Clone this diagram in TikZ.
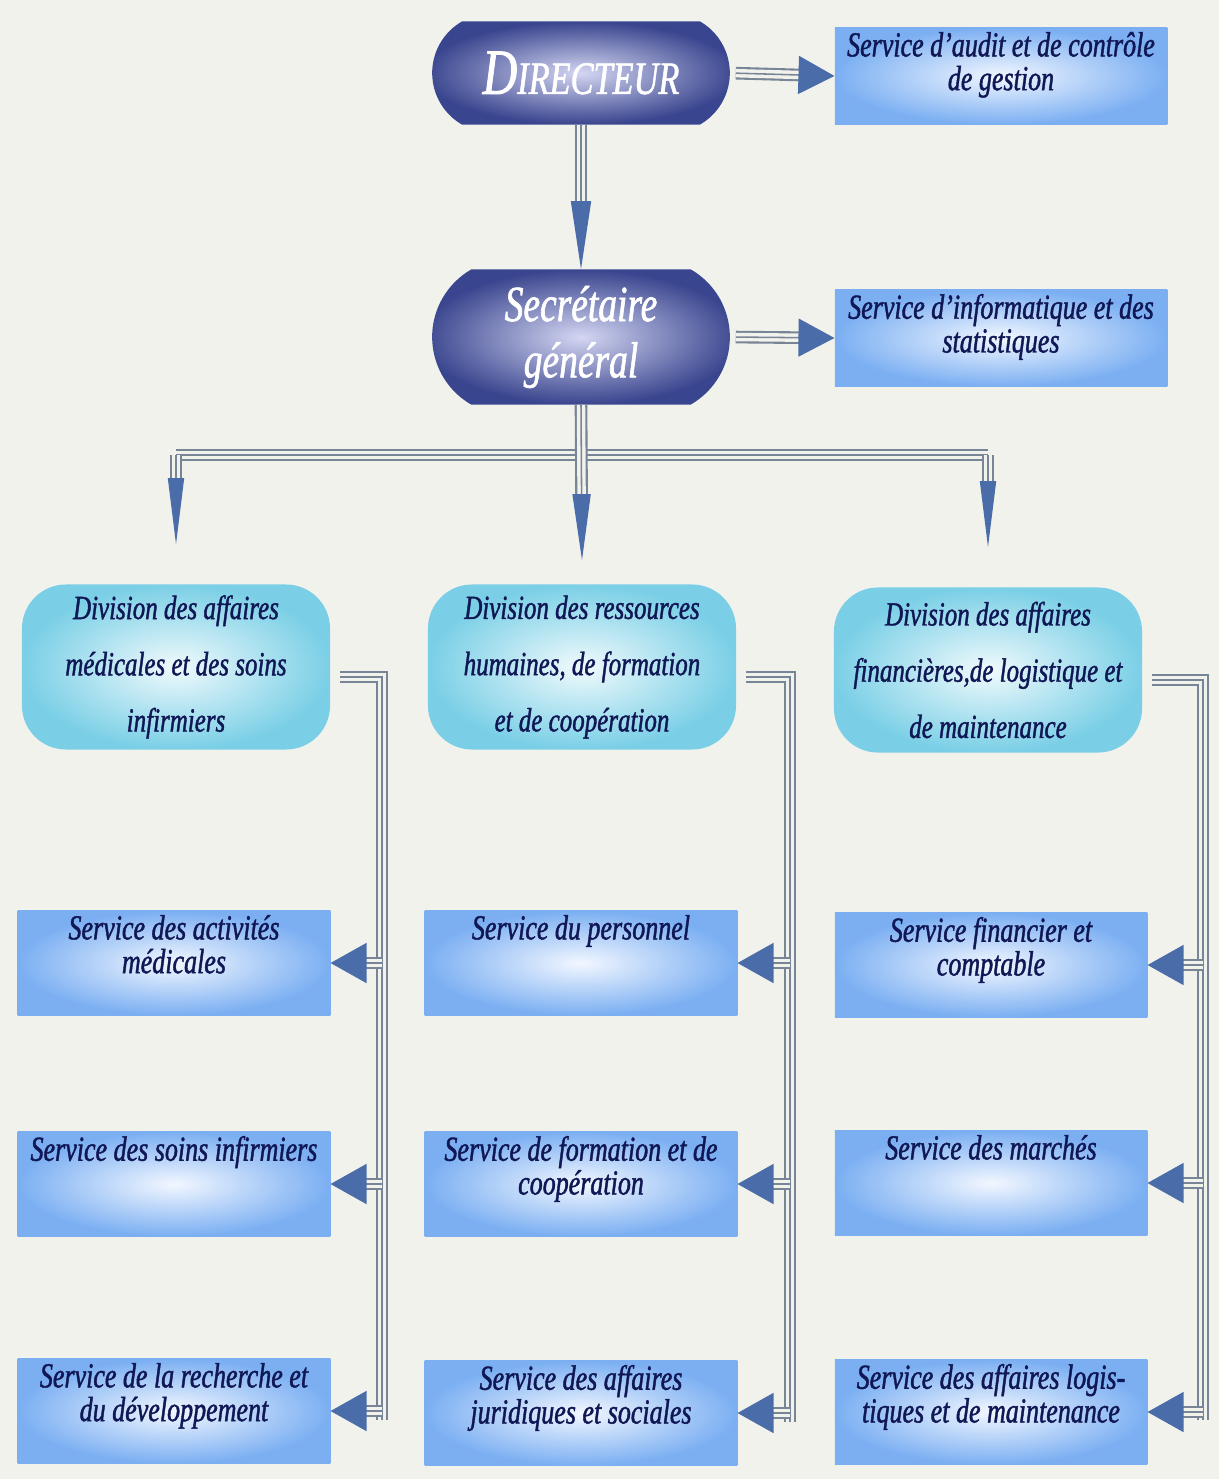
\documentclass[tikz,border=0pt]{standalone}
\usepackage{fontspec}
\usepackage{tikz}
\usetikzlibrary{arrows.meta,positioning,shapes.misc}
\newfontfamily\orgfont[FakeStretch=0.74,FakeBold=1.2]{Liberation Serif}
\definecolor{paper}{HTML}{F2F2ED}
\definecolor{dirdark}{HTML}{39458E}
\definecolor{dirlight}{HTML}{D4D6F2}
\definecolor{divedge}{HTML}{7ACFE6}
\definecolor{divlight}{HTML}{F0FAFC}
\definecolor{svcedge}{HTML}{7BAFF2}
\definecolor{svclight}{HTML}{F2F7FF}
\definecolor{ink}{HTML}{101755}
\definecolor{wire}{HTML}{788596}
\definecolor{tip}{HTML}{4A6CA8}
\newcommand{\toptext}[3]{\parbox[c][#1][t]{#2}{\centering #3}}
\tikzset{
  head/.style  ={rounded rectangle, rounded rectangle arc length=120, minimum width=7.675cm,
                 inner color=dirlight, outer color=dirdark, text=white, align=center},
  divbox/.style={rectangle, rounded corners=1.1cm, minimum width=7.7cm, minimum height=4.125cm,
                 inner color=divlight, outer color=divedge, text=ink, align=center,
                 font=\orgfont\itshape\fontsize{24}{40}\selectfont},
  svcbox/.style={rectangle, minimum width=7.7cm, minimum height=2.575cm, inner sep=3pt,
                 inner color=svclight, outer color=svcedge, text=ink,
                 font=\orgfont\itshape\fontsize{25}{24}\selectfont},
  wires/.style ={preaction={draw=wire, line width=9pt}, preaction={draw=paper, line width=6pt},
                 draw=wire, line width=1.1pt, line join=miter},
  link/.style 2 args={preaction={draw=wire, line width=9pt, -, shorten >=#1-1pt},
                 preaction={draw=paper, line width=6pt, -, shorten >=#1-1pt},
                 draw=wire, line width=1.1pt, -{Triangle[length=#1, width=#2, color=tip]}}
}
\begin{document}
\begin{tikzpicture}[x=0.025cm, y=-0.025cm]
\fill[paper] (0,0) rectangle (1219,1479);
\useasboundingbox (0,0) rectangle (1219,1479);

% direction
\node[head, minimum height=2.575cm, font=\orgfont\itshape] (dir) at (581,73)
  {\fontsize{46}{46}\selectfont D\fontsize{33}{33}\selectfont IRECTEUR};
\node[svcbox, minimum width=8.2cm, minimum height=2.425cm] (audit) at (1001,76)
  {\toptext{2.2cm}{8.1cm}{Service d’audit et de contrôle\\de gestion}};
\node[head, minimum height=3.375cm, font=\orgfont\itshape\fontsize{36}{40}\selectfont] (sec) at (581,337)
  {Secrétaire\\général};
\node[svcbox, minimum width=8.2cm, minimum height=2.425cm] (info) at (1001,338)
  {\toptext{2.2cm}{8.1cm}{Service d’informatique et des\\statistiques}};

% divisions
\node[divbox] (div1) at (176,667) {Division des affaires\\médicales et des soins\\infirmiers};
\node[divbox] (div2) at (582,667) {Division des ressources\\humaines, de formation\\et de coopération};
\node[divbox] (div3) at (988,670) {Division des affaires\\financières,de logistique et\\de maintenance};

% services
\node[svcbox] (s11) at (174,963)  {\toptext{2.4cm}{7.6cm}{Service des activités\\médicales}};
\node[svcbox] (s12) at (174,1184) {\toptext{2.4cm}{7.6cm}{Service des soins infirmiers}};
\node[svcbox] (s13) at (174,1411) {\toptext{2.4cm}{7.6cm}{Service de la recherche et\\du développement}};
\node[svcbox] (s21) at (581,963)  {\toptext{2.4cm}{7.6cm}{Service du personnel}};
\node[svcbox] (s22) at (581,1184) {\toptext{2.4cm}{7.6cm}{Service de formation et de\\coopération}};
\node[svcbox] (s23) at (581,1413) {\toptext{2.4cm}{7.6cm}{Service des affaires\\juridiques et sociales}};
\node[svcbox] (s31) at (991,965)  {\toptext{2.4cm}{7.6cm}{Service financier et\\comptable}};
\node[svcbox] (s32) at (991,1183) {\toptext{2.4cm}{7.6cm}{Service des marchés}};
\node[svcbox] (s33) at (991,1412) {\toptext{2.4cm}{7.6cm}{Service des affaires logis-\\tiques et de maintenance}};

% liaisons du haut
\draw[link={0.9cm}{0.95cm}, shorten <=4pt] (dir.east) -- (audit.west);
\draw[link={1.7cm}{0.5cm}] (dir.south) -- (sec.north);
\draw[link={0.9cm}{0.95cm}, shorten <=4pt] (sec.east) -- (info.west);

% repartition vers les divisions
\coordinate (bus) at (581,455);
\draw[wires] (div1.north |- bus) -- (div3.north |- bus);
\draw[link={1.65cm}{0.45cm}] (sec.south) -- ([yshift=0.6cm]div2.north);
\draw[link={1.65cm}{0.4cm}] (div1.north |- bus) -- ([yshift=1cm]div1.north);
\draw[link={1.65cm}{0.4cm}] (div3.north |- bus) -- ([yshift=1cm]div3.north);

% colonnes des services
\coordinate (col1) at (382,1420);
\coordinate (col2) at (790,1422);
\coordinate (col3) at (1203,1420);
\draw[wires, shorten <=7pt] ([yshift=-0.25cm]div1.east) -| (col1);
\draw[wires, shorten <=7pt] ([yshift=-0.25cm]div2.east) -| (col2);
\draw[wires, shorten <=7pt] ([yshift=-0.25cm]div3.east) -| (col3);

\draw[link={0.9cm}{1cm}] (s11.east -| col1) -- (s11.east);
\draw[link={0.9cm}{1cm}] (s12.east -| col1) -- (s12.east);
\draw[link={0.9cm}{1cm}] (s13.east -| col1) -- (s13.east);
\draw[link={0.9cm}{1cm}] (s21.east -| col2) -- (s21.east);
\draw[link={0.9cm}{1cm}] (s22.east -| col2) -- (s22.east);
\draw[link={0.9cm}{1cm}] (s23.east -| col2) -- (s23.east);
\draw[link={0.9cm}{1cm}] (s31.east -| col3) -- (s31.east);
\draw[link={0.9cm}{1cm}] (s32.east -| col3) -- (s32.east);
\draw[link={0.9cm}{1cm}] (s33.east -| col3) -- (s33.east);
\end{tikzpicture}
\end{document}
